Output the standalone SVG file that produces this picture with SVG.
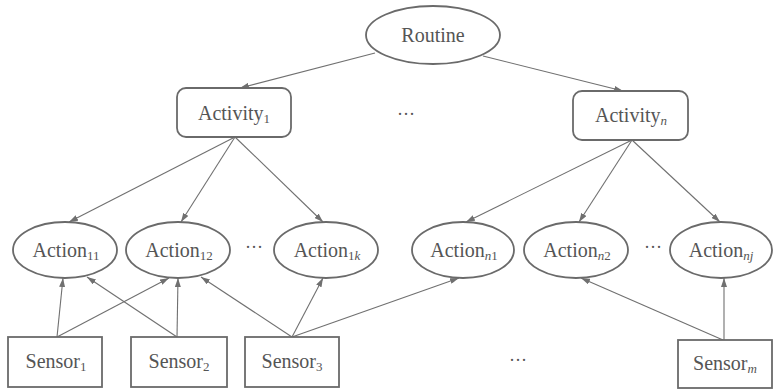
<svg xmlns="http://www.w3.org/2000/svg" width="774" height="390" viewBox="0 0 774 390" font-family="'Liberation Serif', 'DejaVu Serif', serif">
<style>
  .node { fill: #fff; stroke: #6a6a6a; stroke-width: 1.8; }
  text { font-family: 'Liberation Serif', 'DejaVu Serif', serif; }
  .lbl { font-size: 20px; fill: #555; text-anchor: middle; }
  .sub { font-size: 13px; }
  .it { font-style: italic; }
  .dots { font-size: 18px; fill: #555; text-anchor: middle; }
  .edge { stroke: #707070; stroke-width: 1.1; fill: none; marker-end: url(#arr); }
</style>
<defs>
  <marker id="arr" markerUnits="userSpaceOnUse" markerWidth="10" markerHeight="6" refX="9" refY="3" orient="auto">
    <path d="M0,0 L9,3 L0,6 Z" fill="#707070"/>
  </marker>
</defs>
<rect width="774" height="390" fill="#fff"/>
<g id="connectors">
  <line class="edge" x1="375" y1="53" x2="240" y2="88"/>
  <line class="edge" x1="483" y1="56" x2="623" y2="91"/>
  <line class="edge" x1="235" y1="137" x2="69" y2="222"/>
  <line class="edge" x1="235" y1="137" x2="181" y2="222"/>
  <line class="edge" x1="235" y1="137" x2="323" y2="222"/>
  <line class="edge" x1="632" y1="140" x2="466" y2="222"/>
  <line class="edge" x1="632" y1="140" x2="579" y2="222"/>
  <line class="edge" x1="632" y1="140" x2="720" y2="222"/>
  <line class="edge" x1="57" y1="337" x2="63" y2="278"/>
  <line class="edge" x1="57" y1="337" x2="169" y2="278"/>
  <line class="edge" x1="177" y1="337" x2="87" y2="277"/>
  <line class="edge" x1="177" y1="337" x2="178" y2="278"/>
  <line class="edge" x1="292" y1="337" x2="201" y2="277"/>
  <line class="edge" x1="292" y1="337" x2="323" y2="278"/>
  <line class="edge" x1="292" y1="337" x2="459" y2="278"/>
  <line class="edge" x1="723" y1="340" x2="581" y2="278"/>
  <line class="edge" x1="724" y1="340" x2="724" y2="278"/>
</g>
<g id="routine">
  <ellipse class="node" cx="433" cy="35" rx="67" ry="29"/>
  <text class="lbl" x="433" y="42">Routine</text>
</g>
<g id="activity1">
  <rect class="node" x="177" y="88" width="114" height="49" rx="9"/>
  <text class="lbl" x="234" y="120">Activity<tspan class="sub" dy="3">1</tspan></text>
</g>
<g id="activityn">
  <rect class="node" x="573" y="91" width="115" height="49" rx="9"/>
  <text class="lbl" x="631" y="122">Activity<tspan class="sub it" dy="3">n</tspan></text>
</g>
<g id="action11">
  <ellipse class="node" cx="65" cy="250" rx="52" ry="28"/>
  <text class="lbl" x="66" y="257">Action<tspan class="sub" dy="3">11</tspan></text>
</g>
<g id="action12">
  <ellipse class="node" cx="178" cy="250" rx="52" ry="28"/>
  <text class="lbl" x="179" y="257">Action<tspan class="sub" dy="3">12</tspan></text>
</g>
<g id="action1k">
  <ellipse class="node" cx="326" cy="250" rx="52" ry="28"/>
  <text class="lbl" x="327" y="257">Action<tspan class="sub" dy="3">1<tspan class="it">k</tspan></tspan></text>
</g>
<g id="actionn1">
  <ellipse class="node" cx="463" cy="250" rx="51" ry="28"/>
  <text class="lbl" x="464" y="257">Action<tspan class="sub" dy="3"><tspan class="it">n</tspan>1</tspan></text>
</g>
<g id="actionn2">
  <ellipse class="node" cx="576" cy="250" rx="52" ry="28"/>
  <text class="lbl" x="577" y="257">Action<tspan class="sub" dy="3"><tspan class="it">n</tspan>2</tspan></text>
</g>
<g id="actionnj">
  <ellipse class="node" cx="721" cy="250" rx="51" ry="28"/>
  <text class="lbl" x="721" y="257">Action<tspan class="sub it" dy="3">nj</tspan></text>
</g>
<g id="sensor1">
  <rect class="node" x="8" y="337" width="94" height="50"/>
  <text class="lbl" x="56" y="368">Sensor<tspan class="sub" dy="3">1</tspan></text>
</g>
<g id="sensor2">
  <rect class="node" x="131" y="337" width="96" height="50"/>
  <text class="lbl" x="179" y="368">Sensor<tspan class="sub" dy="3">2</tspan></text>
</g>
<g id="sensor3">
  <rect class="node" x="245" y="337" width="94" height="50"/>
  <text class="lbl" x="292" y="368">Sensor<tspan class="sub" dy="3">3</tspan></text>
</g>
<g id="sensorm">
  <rect class="node" x="678" y="340" width="94" height="48"/>
  <text class="lbl" x="725" y="370">Sensor<tspan class="sub it" dy="3">m</tspan></text>
</g>
<text class="dots" x="406" y="120">···</text>
<text class="dots" x="254" y="253">···</text>
<text class="dots" x="653" y="253">···</text>
<text class="dots" x="518" y="366">···</text>
</svg>
